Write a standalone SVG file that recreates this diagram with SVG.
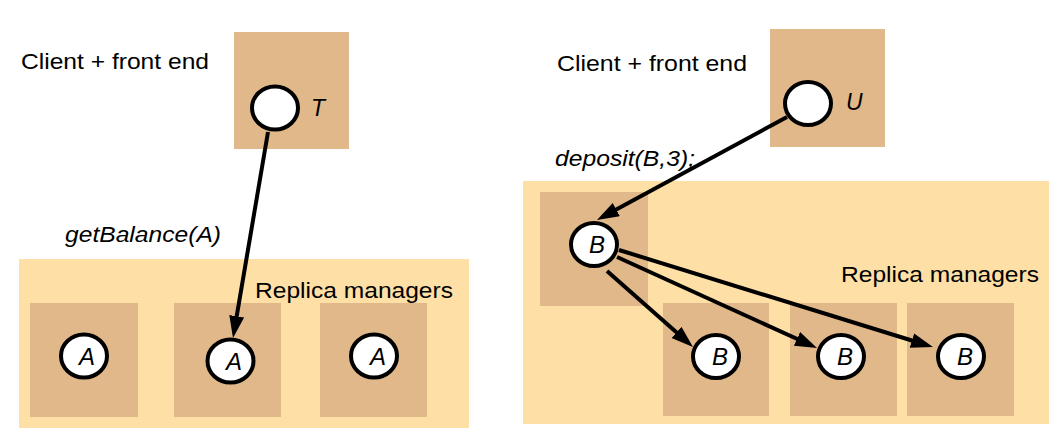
<svg xmlns="http://www.w3.org/2000/svg" width="1061" height="433" viewBox="0 0 1061 433">
<style>
.bg{fill:#ffffff}
.outer{fill:#fee0a7}
.box{fill:#e1b889}
.proc{fill:#ffffff;stroke:#000000;stroke-width:4}
.lbl{font-family:"Liberation Sans",Arial,Helvetica,sans-serif;font-size:21.5px;fill:#000000}
.it{font-family:"Liberation Sans",Arial,Helvetica,sans-serif;font-size:21.5px;font-style:italic;fill:#000000}
.tl{font-family:"Liberation Sans",Arial,Helvetica,sans-serif;font-size:23px;font-style:italic;fill:#000000}
.obj{font-family:"Liberation Sans",Arial,Helvetica,sans-serif;font-size:24px;font-style:italic;fill:#000000;text-anchor:middle}
.conn{fill:none;stroke:#000000;stroke-width:4;marker-end:url(#arrow)}
</style>
<defs>
<marker id="arrow" markerUnits="userSpaceOnUse" markerWidth="24" markerHeight="16" refX="10" refY="7.5" orient="auto">
<path d="M0,0 L22,7.5 L0,15 Z" fill="#000000"/>
</marker>
</defs>
<rect class="bg" x="0" y="0" width="1061" height="433"/>

<g id="left-client">
<rect class="box" x="234" y="32" width="115" height="117"/>
<text class="lbl" x="21" y="69" textLength="188" lengthAdjust="spacingAndGlyphs">Client + front end</text>
</g>
<g id="left-T">
<ellipse class="proc" cx="275" cy="108" rx="23" ry="21.5"/>
<text class="tl" x="311" y="116">T</text>
</g>
<g id="left-label">
<text class="it" x="65" y="242" textLength="156" lengthAdjust="spacingAndGlyphs">getBalance(A)</text>
</g>
<g id="left-rms">
<rect class="outer" x="19" y="259" width="450" height="169"/>
<text class="lbl" x="255" y="298" textLength="198" lengthAdjust="spacingAndGlyphs">Replica managers</text>
</g>
<g id="left-rm1">
<rect class="box" x="30" y="303" width="108" height="114"/>
<ellipse class="proc" cx="84" cy="356" rx="23" ry="21.5"/>
<text class="obj" x="87" y="365">A</text>
</g>
<g id="left-rm2">
<rect class="box" x="174" y="303" width="107" height="114"/>
<ellipse class="proc" cx="230.5" cy="361" rx="23" ry="21.5"/>
<text class="obj" x="234" y="370">A</text>
</g>
<g id="left-rm3">
<rect class="box" x="320" y="303" width="107" height="114"/>
<ellipse class="proc" cx="374" cy="356" rx="23" ry="21.5"/>
<text class="obj" x="378" y="365">A</text>
</g>

<g id="right-client">
<rect class="box" x="770" y="29" width="115" height="118"/>
<text class="lbl" x="557" y="71" textLength="190" lengthAdjust="spacingAndGlyphs">Client + front end</text>
</g>
<g id="right-U">
<ellipse class="proc" cx="808" cy="103.5" rx="23" ry="21.5"/>
<text class="tl" x="846" y="110">U</text>
</g>
<g id="right-label">
<text class="it" x="555" y="166" textLength="140" lengthAdjust="spacingAndGlyphs">deposit(B,3);</text>
</g>
<g id="right-rms">
<rect class="outer" x="523" y="181" width="526" height="243"/>
<text class="lbl" x="841" y="282" textLength="198" lengthAdjust="spacingAndGlyphs">Replica managers</text>
</g>
<g id="right-rm0">
<rect class="box" x="540" y="192" width="108" height="114"/>
<ellipse class="proc" cx="594" cy="244.5" rx="23" ry="21.5"/>
<text class="obj" x="597" y="253">B</text>
</g>
<g id="right-rm1">
<rect class="box" x="663" y="303" width="106" height="113"/>
<ellipse class="proc" cx="716" cy="356.5" rx="23" ry="21.5"/>
<text class="obj" x="720" y="365">B</text>
</g>
<g id="right-rm2">
<rect class="box" x="790" y="303" width="107" height="113"/>
<ellipse class="proc" cx="841" cy="356.5" rx="23" ry="21.5"/>
<text class="obj" x="845" y="365">B</text>
</g>
<g id="right-rm3">
<rect class="box" x="907" y="303" width="107" height="113"/>
<ellipse class="proc" cx="961" cy="356.5" rx="23" ry="21.5"/>
<text class="obj" x="965" y="365">B</text>
</g>

<g id="connectors">
<line class="conn" x1="268" y1="132" x2="235" y2="326.2"/>
<line class="conn" x1="787" y1="117" x2="607.5" y2="214.3"/>
<line class="conn" x1="607" y1="271" x2="684" y2="339.1"/>
<line class="conn" x1="617" y1="257" x2="806.1" y2="343"/>
<line class="conn" x1="619" y1="250" x2="921.5" y2="343.5"/>
</g>
</svg>
